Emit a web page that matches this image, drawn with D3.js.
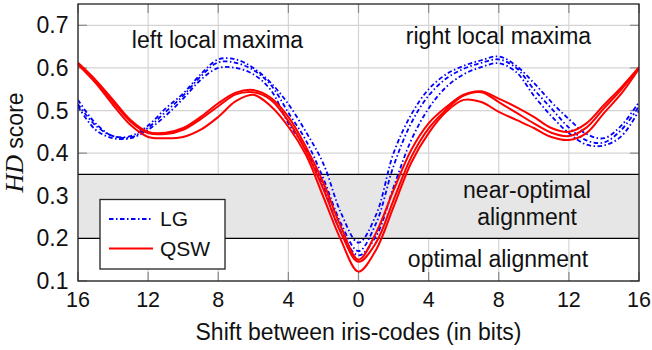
<!DOCTYPE html>
<html>
<head>
<meta charset="utf-8">
<script src="https://cdn.jsdelivr.net/npm/d3@7"></script>
<style>
  html, body { margin: 0; padding: 0; background: #fff; }
  svg { display: block; }
  text { font-family: "Liberation Sans", Arial, sans-serif; fill: #111; }
</style>
</head>
<body>
<svg id="chart" width="652" height="350"></svg>
<script>
// ---- data ----
const shifts = [-16,-15,-14,-13,-12,-11,-10,-9,-8,-7,-6,-5,-4,-3,-2,-1,0,1,2,3,4,5,6,7,8,9,10,11,12,13,14,15,16];
const lg1  = [0.525,0.47,0.44,0.44,0.465,0.505,0.54,0.585,0.62,0.62,0.60,0.565,0.515,0.45,0.375,0.26,0.19,0.255,0.40,0.49,0.55,0.585,0.605,0.618,0.627,0.605,0.565,0.52,0.48,0.445,0.435,0.465,0.52];
const lg2  = [0.515,0.465,0.44,0.437,0.46,0.497,0.535,0.58,0.613,0.612,0.595,0.56,0.495,0.43,0.34,0.235,0.17,0.235,0.37,0.47,0.535,0.575,0.598,0.612,0.62,0.6,0.55,0.505,0.46,0.43,0.425,0.455,0.51];
const lg3  = [0.51,0.455,0.435,0.435,0.455,0.488,0.528,0.572,0.6,0.6,0.585,0.548,0.47,0.41,0.32,0.215,0.16,0.205,0.32,0.43,0.505,0.555,0.585,0.602,0.611,0.59,0.535,0.487,0.447,0.42,0.418,0.44,0.5];
const qsw1 = [0.612,0.572,0.525,0.478,0.45,0.448,0.459,0.485,0.517,0.542,0.548,0.53,0.485,0.415,0.33,0.227,0.15,0.213,0.313,0.407,0.47,0.508,0.537,0.545,0.528,0.508,0.485,0.459,0.45,0.47,0.513,0.555,0.602];
const qsw2 = [0.61,0.568,0.52,0.474,0.447,0.445,0.455,0.48,0.51,0.538,0.543,0.525,0.475,0.405,0.315,0.213,0.145,0.19,0.29,0.39,0.458,0.502,0.535,0.543,0.52,0.495,0.47,0.448,0.44,0.46,0.505,0.55,0.6];
const qsw3 = [0.608,0.565,0.513,0.466,0.438,0.435,0.438,0.455,0.485,0.522,0.537,0.51,0.462,0.396,0.297,0.196,0.122,0.173,0.274,0.377,0.447,0.497,0.525,0.52,0.497,0.478,0.459,0.438,0.431,0.447,0.494,0.54,0.598];
const lgSeries = [lg1, lg2, lg3];
const qswSeries = [qsw1, qsw2, qsw3];
const xTicks = [-16,-12,-8,-4,0,4,8,12,16];
const xTickLabels = ["16","12","8","4","0","4","8","12","16"];
const yTicks = [0.1,0.2,0.3,0.4,0.5,0.6,0.7];
const yTickLabels = ["0.1","0.2","0.3","0.4","0.5","0.6","0.7"];
const band = [0.2, 0.35];
const legendNames = ["LG", "QSW"];

// ---- layout ----
const svg = d3.select("#chart");
const L = 78, R = 639, T = 4, B = 281;
const x = d3.scaleLinear().domain([-16, 16]).range([L, R]);
const y = d3.scaleLinear().domain([0.1, 0.75]).range([B, T]);

svg.append("defs").append("clipPath").attr("id", "clip")
  .append("rect").attr("x", L).attr("y", T).attr("width", R - L).attr("height", B - T);

// grid
const grid = svg.append("g");
grid.selectAll("line.vg").data(xTicks).join("line")
  .attr("x1", d => x(d)).attr("x2", d => x(d)).attr("y1", T).attr("y2", B)
  .attr("stroke", "#d4d4d4").attr("stroke-width", 1.2);
grid.selectAll("line.hg").data(yTicks).join("line")
  .attr("x1", L).attr("x2", R).attr("y1", d => y(d)).attr("y2", d => y(d))
  .attr("stroke", "#d4d4d4").attr("stroke-width", 1.2);

// ticks (inner, all four sides)
const tk = 9, tc = "#8a8a8a";
const ticks = svg.append("g").attr("stroke", tc).attr("stroke-width", 1.2);
xTicks.forEach(d => {
  ticks.append("line").attr("x1", x(d)).attr("x2", x(d)).attr("y1", B).attr("y2", B - tk);
  ticks.append("line").attr("x1", x(d)).attr("x2", x(d)).attr("y1", T).attr("y2", T + tk);
});
yTicks.forEach(d => {
  ticks.append("line").attr("x1", L).attr("x2", L + tk).attr("y1", y(d)).attr("y2", y(d));
  ticks.append("line").attr("x1", R).attr("x2", R - tk).attr("y1", y(d)).attr("y2", y(d));
});

// band
svg.append("rect").attr("x", L).attr("width", R - L)
  .attr("y", y(band[1])).attr("height", y(band[0]) - y(band[1]))
  .attr("fill", "#e6e6e6");
band.forEach(v => {
  svg.append("line").attr("x1", L).attr("x2", R).attr("y1", y(v)).attr("y2", y(v))
    .attr("stroke", "#000").attr("stroke-width", 1.3);
});

// curves
const line = d3.line().x((d, i) => x(shifts[i])).y(d => y(d)).curve(d3.curveCatmullRom.alpha(0.5));
const curves = svg.append("g").attr("clip-path", "url(#clip)");
lgSeries.forEach(s => {
  curves.append("path").attr("d", line(s)).attr("fill", "none")
    .attr("stroke", "#0000ff").attr("stroke-width", 1.8)
    .attr("stroke-dasharray", "4.5,2.5,1.5,2.5");
});
qswSeries.forEach(s => {
  curves.append("path").attr("d", line(s)).attr("fill", "none")
    .attr("stroke", "#ff0000").attr("stroke-width", 2);
});

// frame
svg.append("rect").attr("x", L).attr("y", T).attr("width", R - L).attr("height", B - T)
  .attr("fill", "none").attr("stroke", "#222").attr("stroke-width", 1.3);

// tick labels
svg.selectAll("text.xt").data(xTicks).join("text")
  .attr("x", d => x(d)).attr("y", 306.5).attr("text-anchor", "middle")
  .attr("font-size", 21.5).text((d, i) => xTickLabels[i]);
svg.selectAll("text.yt").data(yTicks).join("text")
  .attr("x", 68.5).attr("y", d => y(d) + 8).attr("text-anchor", "end")
  .attr("font-size", 23).text((d, i) => yTickLabels[i]);

// axis labels
svg.append("text").attr("x", x(0)).attr("y", 340).attr("text-anchor", "middle")
  .attr("font-size", 23).text("Shift between iris-codes (in bits)");
const yl = svg.append("text").attr("transform", `translate(23,${(T + B) / 2}) rotate(-90)`)
  .attr("text-anchor", "middle").attr("font-size", 23);
yl.append("tspan").attr("font-family", "'Liberation Serif','DejaVu Serif',serif")
  .attr("font-style", "italic").attr("font-size", 26).text("HD");
yl.append("tspan").text(" score");

// annotations
const ann = [
  {t: "left local maxima", x: 217.5, y: 48},
  {t: "right local maxima", x: 498.5, y: 44},
  {t: "near-optimal", x: 527, y: 198},
  {t: "alignment", x: 527, y: 225},
  {t: "optimal alignment", x: 498, y: 267}
];
svg.selectAll("text.ann").data(ann).join("text")
  .attr("x", d => d.x).attr("y", d => d.y).attr("text-anchor", "middle")
  .attr("font-size", 23).text(d => d.t);

// legend
const lg = svg.append("g");
lg.append("rect").attr("x", 100).attr("y", 199.5).attr("width", 125).attr("height", 69.5)
  .attr("fill", "#fff").attr("stroke", "#222").attr("stroke-width", 1.3);
lg.append("line").attr("x1", 109).attr("x2", 153).attr("y1", 219).attr("y2", 219)
  .attr("stroke", "#0000ff").attr("stroke-width", 1.8).attr("stroke-dasharray", "4.5,2.5,1.5,2.5");
lg.append("line").attr("x1", 109).attr("x2", 153).attr("y1", 248.5).attr("y2", 248.5)
  .attr("stroke", "#ff0000").attr("stroke-width", 2);
lg.append("text").attr("x", 160).attr("y", 226).attr("font-size", 21).text(legendNames[0]);
lg.append("text").attr("x", 160).attr("y", 256).attr("font-size", 21).text(legendNames[1]);
</script>
</body>
</html>
